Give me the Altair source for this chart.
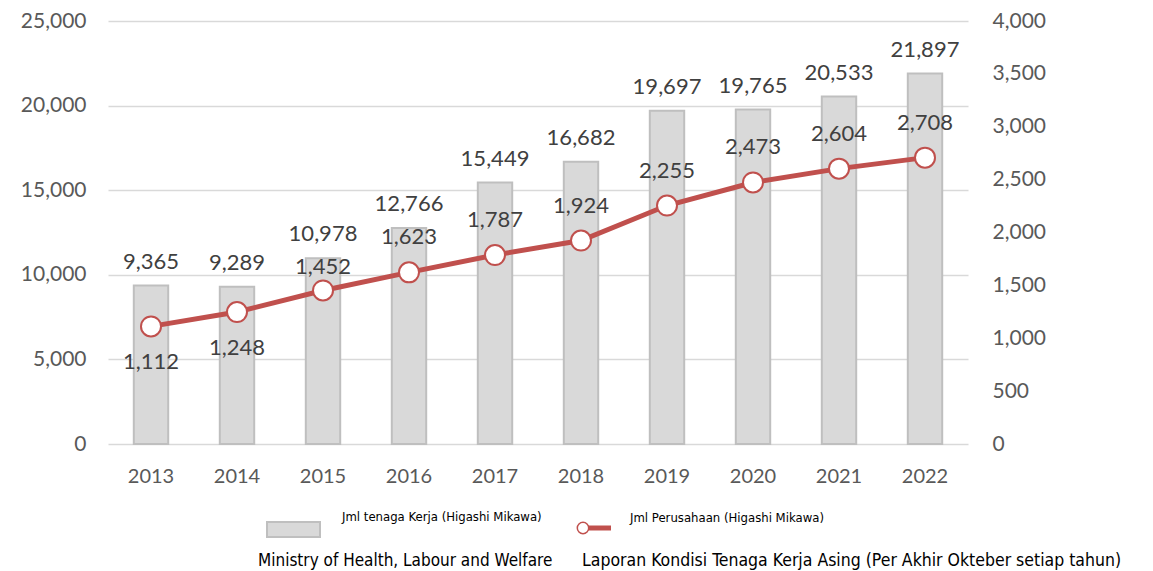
import altair as alt
import pandas as pd

years = ["2013", "2014", "2015", "2016", "2017", "2018", "2019", "2020", "2021", "2022"]
workers = [9365, 9289, 10978, 12766, 15449, 16682, 19697, 19765, 20533, 21897]
companies = [1112, 1248, 1452, 1623, 1787, 1924, 2255, 2473, 2604, 2708]

legend_bar = "Jml tenaga Kerja (Higashi Mikawa)"
legend_line = "Jml Perusahaan (Higashi Mikawa)"
source_left = "Ministry of Health, Labour and Welfare"
source_right = "Laporan Kondisi Tenaga Kerja Asing (Per Akhir Okteber setiap  tahun)"

df = pd.DataFrame({"year": years, "workers": workers, "companies": companies})

FONT = "Lato"
NARROW = "Liberation Sans Narrow, DejaVu Sans Condensed"
RED = "#c0504d"
TXT = "#404040"
AX = "#595959"

W, H = 860, 423

x = alt.X("year:O", title=None, scale=alt.Scale(paddingInner=0.6, paddingOuter=0.3),
          axis=alt.Axis(labelAngle=0, labelFont=FONT, labelFontSize=20, labelColor=AX,
                        labelPadding=22, domain=False, ticks=False, grid=False))

base = alt.Chart(df).encode(x=x)

yleft = alt.Y("workers:Q", title=None,
              scale=alt.Scale(domain=[0, 25000], nice=False),
              axis=alt.Axis(tickCount=5, labelExpr="format(datum.value, ',')",
                            labelFont=FONT, labelFontSize=21, labelColor=AX,
                            labelPadding=22, domain=False, ticks=False,
                            grid=True, gridColor="#d9d9d9", gridWidth=1.5))
yleft_plain = alt.Y("workers:Q", scale=alt.Scale(domain=[0, 25000], nice=False))

bars = base.mark_bar(color="#d9d9d9", stroke="#bfbfbf", strokeWidth=2).encode(y=yleft)
bar_labels = base.mark_text(font=FONT, fontSize=22, color=TXT, baseline="bottom", dy=-12).encode(
    y=yleft_plain, text=alt.Text("workers:Q", format=","))

left = alt.layer(bars, bar_labels)

yline = alt.Y("companies:Q", title=None,
              scale=alt.Scale(domain=[0, 4000], nice=False),
              axis=alt.Axis(orient="right", tickCount=8, labelExpr="format(datum.value, ',')",
                            labelFont=FONT, labelFontSize=21, labelColor=AX,
                            labelPadding=24, domain=False, ticks=False, grid=False,
                            labelAlign="left"))
yline_plain = alt.Y("companies:Q", scale=alt.Scale(domain=[0, 4000], nice=False))

line = base.mark_line(color=RED, strokeWidth=5).encode(y=yline)
pts = base.mark_point(shape="circle", size=400, filled=True, fill="white",
                      stroke=RED, strokeWidth=2, opacity=1).encode(y=yline_plain)
lbl = dict(font=FONT, fontSize=22, color=TXT, baseline="middle")
line_labels_above = base.transform_filter("datum.year > 2015").mark_text(dy=-35, **lbl).encode(
    y=yline_plain, text=alt.Text("companies:Q", format=","))
line_labels_2015 = base.transform_filter("datum.year == 2015").mark_text(dy=-23, **lbl).encode(
    y=yline_plain, text=alt.Text("companies:Q", format=","))
line_labels_below = base.transform_filter("datum.year <= 2014").mark_text(dy=36, **lbl).encode(
    y=yline_plain, text=alt.Text("companies:Q", format=","))

right = alt.layer(line, pts, line_labels_above, line_labels_2015, line_labels_below)

one = pd.DataFrame({"a": [0]})
leg_rect = alt.Chart(one).mark_rect(color="#d9d9d9", stroke="#bfbfbf", strokeWidth=2).encode(
    x=alt.value(159), x2=alt.value(212), y=alt.value(501), y2=alt.value(516))
leg_rect_text = alt.Chart(one).mark_text(font=NARROW, fontSize=13, color="#000000", align="left").encode(
    x=alt.value(234), y=alt.value(496), text=alt.value(legend_bar))
leg_line = alt.Chart(one).mark_rule(color=RED, strokeWidth=5).encode(
    x=alt.value(475), x2=alt.value(503), y=alt.value(507))
leg_pt = alt.Chart(one).mark_point(shape="circle", size=130, filled=True, fill="white",
                                   stroke=RED, strokeWidth=1.5, opacity=1).encode(
    x=alt.value(475), y=alt.value(507))
leg_line_text = alt.Chart(one).mark_text(font=NARROW, fontSize=13, color="#000000", align="left").encode(
    x=alt.value(522), y=alt.value(497), text=alt.value(legend_line))
src1 = alt.Chart(one).mark_text(font=NARROW, fontSize=17, color="#000000", align="left").encode(
    x=alt.value(150), y=alt.value(540), text=alt.value(source_left))
src2 = alt.Chart(one).mark_text(font=NARROW, fontSize=17.5, color="#000000", align="left").encode(
    x=alt.value(474), y=alt.value(540), text=alt.value(source_right))

decor = alt.layer(leg_rect, leg_rect_text, leg_line, leg_pt, leg_line_text, src1, src2)

chart = alt.layer(left, right, decor).resolve_scale(y="independent").properties(
    width=W, height=H,
    background="white",
    autosize=alt.AutoSizeParams(type="none"),
    padding={"left": 108, "top": 21, "right": 185, "bottom": 127},
).configure_view(stroke=None, strokeWidth=0).configure_axis(domain=False, ticks=False)

chart.save("out.html", embed_options={"renderer": "svg", "actions": False})
